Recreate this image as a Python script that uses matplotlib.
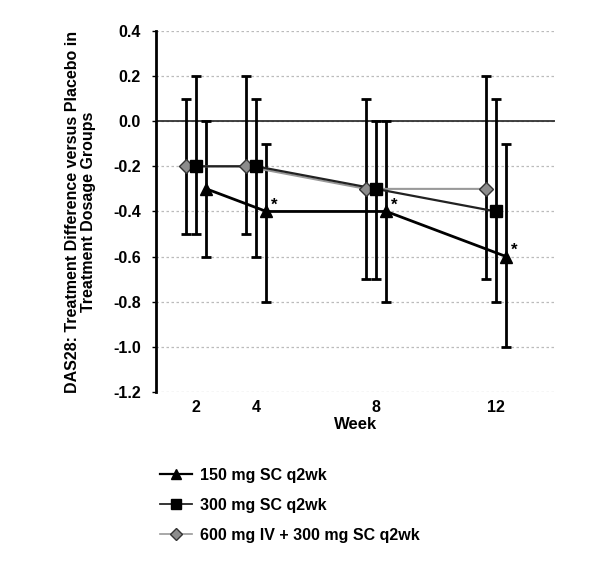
import matplotlib
matplotlib.use("Agg")
import matplotlib.pyplot as plt
from matplotlib.lines import Line2D
import numpy as np

plt.rcParams['font.family'] = ['Liberation Sans', 'DejaVu Sans']

weeks = [2, 4, 8, 12]
week_labels = ["2", "4", "8", "12"]
series_names = ["150 mg SC q2wk", "300 mg SC q2wk", "600 mg IV + 300 mg SC q2wk"]

mean_150 = [-0.3, -0.4, -0.4, -0.6]
upper_150 = [0.0, -0.1, 0.0, -0.1]
lower_150 = [-0.6, -0.8, -0.8, -1.0]

mean_300 = [-0.2, -0.2, -0.3, -0.4]
upper_300 = [0.2, 0.1, 0.0, 0.1]
lower_300 = [-0.5, -0.6, -0.7, -0.8]

mean_600 = [-0.2, -0.2, -0.3, -0.3]
upper_600 = [0.1, 0.2, 0.1, 0.2]
lower_600 = [-0.5, -0.5, -0.7, -0.7]

signif_150 = [False, True, True, True]

fig = plt.figure(figsize=(6, 5.7), dpi=100)
ax = fig.add_axes([0.26, 0.312, 0.665, 0.634])

offsets = [0.35, 0.0, -0.33]
styles = [
    dict(marker='^', color='black', mfc='black', mec='black', ms=9, lw=2.0),
    dict(marker='s', color='#222222', mfc='black', mec='black', ms=8, lw=1.6),
    dict(marker='D', color='#999999', mfc='#8c8c8c', mec='#333333', ms=7, lw=1.5),
]
data = [(mean_150, upper_150, lower_150), (mean_300, upper_300, lower_300), (mean_600, upper_600, lower_600)]

for idx in [2, 1, 0]:
    m, up, lo = data[idx]
    m = np.array(m); up = np.array(up); lo = np.array(lo)
    x = np.array(weeks) + offsets[idx]
    st = styles[idx]
    ax.errorbar(x, m, yerr=[m - lo, up - m], fmt='none', ecolor='black',
                elinewidth=2.0, capsize=3.5, capthick=2.0, zorder=2)
    ax.plot(x, m, linestyle='-', color=st['color'], lw=st['lw'], zorder=3)
    ax.plot(x, m, linestyle='none', marker=st['marker'], mfc=st['mfc'],
            mec=st['mec'], ms=st['ms'], mew=1.0, zorder=4)

for w, m, s in zip(weeks, mean_150, signif_150):
    if s:
        ax.annotate('*', (w + offsets[0], m), xytext=(3, -1), textcoords='offset points',
                    fontsize=12, fontweight='bold', ha='left', va='bottom')

ax.axhline(0, color='#222222', lw=1.2, zorder=1)
ax.set_xlim(0.67, 13.97)
ax.set_ylim(-1.2, 0.4)
yt = [round(v, 1) for v in np.arange(-1.2, 0.41, 0.2)]
ax.set_yticks(yt)
ax.set_yticklabels([f"{abs(v):.1f}" if abs(v) < 1e-9 else f"{v:.1f}" for v in yt],
                   fontsize=11.5, fontweight='heavy')
ax.set_xticks(weeks)
ax.set_xticklabels(week_labels, fontsize=11.5, fontweight='heavy')
ax.tick_params(axis='x', length=0, pad=6)
ax.tick_params(axis='y', length=3, width=1, pad=8)
ax.yaxis.grid(True, linestyle=(0, (2, 2)), color='#bbbbbb', lw=0.9)
ax.set_axisbelow(True)
for sp in ['top', 'right', 'bottom']:
    ax.spines[sp].set_visible(False)
ax.spines['left'].set_linewidth(2.0)
ax.set_xlabel('Week', fontsize=12, fontweight='heavy', labelpad=1)
ax.set_ylabel('DAS28: Treatment Difference versus Placebo in\nTreatment Dosage Groups',
              fontsize=11.5, fontweight='bold', labelpad=12, linespacing=1.15)

handles = []
for idx in range(3):
    st = styles[idx]
    handles.append(Line2D([0], [0], color=st['color'], lw=st['lw'] * 0.8, marker=st['marker'],
                          mfc=st['mfc'], mec=st['mec'], ms=st['ms'] * 0.85))
leg = fig.legend(handles, series_names, loc='upper left', bbox_to_anchor=(0.243, 0.205),
                 frameon=False, prop={'weight': 'heavy', 'size': 11.5}, handlelength=2.0,
                 labelspacing=0.95, handletextpad=0.5)

fig.savefig('out.png', dpi=100)
